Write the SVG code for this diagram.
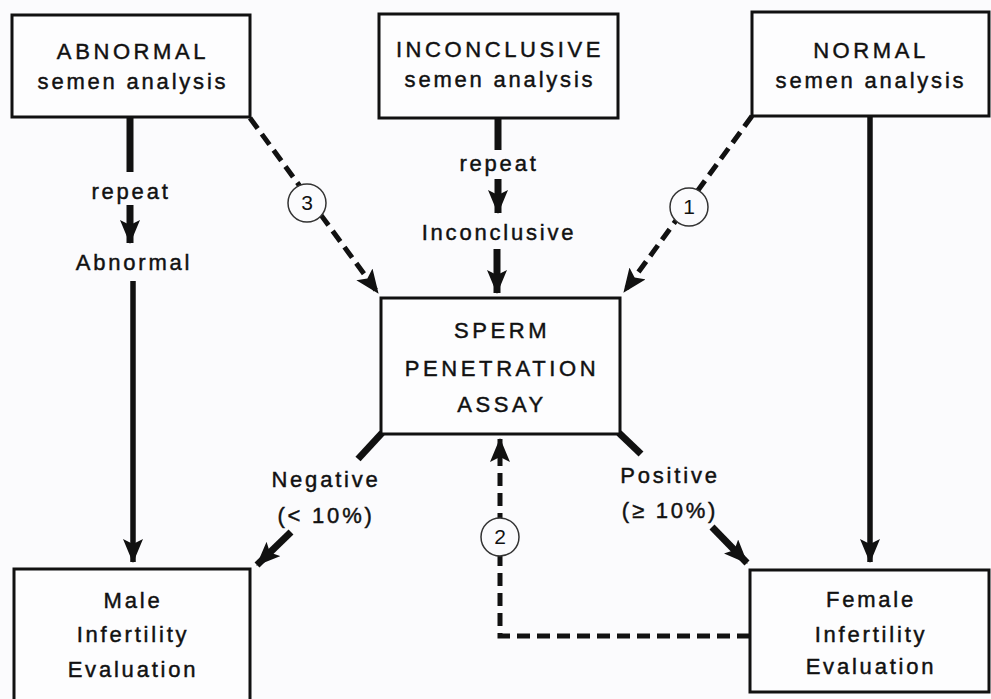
<svg xmlns="http://www.w3.org/2000/svg" width="991" height="699" viewBox="0 0 991 699">
<defs>
<marker id="ah" markerUnits="userSpaceOnUse" markerWidth="26" markerHeight="20" refX="23" refY="10" orient="auto">
<path d="M0,0 L24,10 L0,20 L5,10 z" fill="#111"/>
</marker>
<style>
.box{fill:#fdfdfe;stroke:#111;stroke-width:3}
.t{font-family:"Liberation Sans","DejaVu Sans",sans-serif;font-size:22px;fill:#111;stroke:#111;stroke-width:0.45;text-anchor:middle;letter-spacing:2.8px}
.cap{letter-spacing:3.6px}
.solid{stroke:#111;stroke-width:7;fill:none}
.thin{stroke:#111;stroke-width:5.5;fill:none}
.dash{stroke:#111;stroke-width:5;fill:none;stroke-dasharray:13 7}
.circ{fill:#fbfbfd;stroke:#333;stroke-width:1.5}
.num{font-family:"Liberation Sans","DejaVu Sans",sans-serif;font-size:21px;fill:#111;text-anchor:middle}
</style>
</defs>
<rect width="991" height="699" fill="#fbfbfd"/>
<g id="connectors">
<line class="solid" x1="130" y1="117" x2="130" y2="172"/>
<line class="solid" x1="130" y1="205" x2="130" y2="243" marker-end="url(#ah)"/>
<line class="thin" x1="133" y1="281" x2="133" y2="562" marker-end="url(#ah)"/>
<line class="dash" x1="250" y1="118" x2="378" y2="293" marker-end="url(#ah)"/>
<line class="solid" x1="498" y1="118" x2="498" y2="150"/>
<line class="solid" x1="498" y1="179" x2="498" y2="213" marker-end="url(#ah)"/>
<line class="solid" x1="497" y1="249" x2="497" y2="293" marker-end="url(#ah)"/>
<line class="dash" x1="752" y1="116" x2="624" y2="292" marker-end="url(#ah)"/>
<line class="thin" x1="870" y1="116" x2="870" y2="562" marker-end="url(#ah)"/>
<line class="solid" x1="382" y1="433" x2="358" y2="459"/>
<line class="solid" x1="619" y1="433" x2="641" y2="454"/>
<line class="solid" x1="291" y1="532" x2="257" y2="565" marker-end="url(#ah)"/>
<line class="solid" x1="712" y1="527" x2="747" y2="563" marker-end="url(#ah)"/>
<path class="dash" d="M750,636 L500,636 L500,439" marker-end="url(#ah)"/>
<circle class="circ" cx="307" cy="203" r="19"/>
<text class="num" x="307" y="210">3</text>
<circle class="circ" cx="689" cy="207" r="19"/>
<text class="num" x="689" y="214">1</text>
<circle class="circ" cx="500" cy="537" r="19"/>
<text class="num" x="500" y="544">2</text>
<text class="t" x="131" y="199">repeat</text>
<text class="t" x="134" y="270">Abnormal</text>
<text class="t" x="499" y="171">repeat</text>
<text class="t" x="499" y="240">Inconclusive</text>
<text class="t" x="326" y="487">Negative</text>
<text class="t" x="326" y="523">(&lt; 10%)</text>
<text class="t" x="670" y="483">Positive</text>
<text class="t" x="670" y="518">(≥ 10%)</text>
</g>
<g id="abnormal">
<rect class="box" x="12" y="15" width="238" height="102"/>
<text class="t cap" x="133" y="59">ABNORMAL</text>
<text class="t" x="133" y="89">semen analysis</text>
</g>
<g id="inconclusive">
<rect class="box" x="379" y="14" width="239" height="104"/>
<text class="t cap" x="500" y="57">INCONCLUSIVE</text>
<text class="t" x="500" y="87">semen analysis</text>
</g>
<g id="normal">
<rect class="box" x="752" y="12" width="237" height="104"/>
<text class="t cap" x="871" y="58">NORMAL</text>
<text class="t" x="871" y="88">semen analysis</text>
</g>
<g id="spa">
<rect class="box" x="381" y="298" width="239" height="136"/>
<text class="t cap" x="502" y="338">SPERM</text>
<text class="t cap" x="502" y="376">PENETRATION</text>
<text class="t cap" x="502" y="412">ASSAY</text>
</g>
<g id="male">
<rect class="box" x="14" y="569" width="236" height="140"/>
<text class="t" x="133" y="608">Male</text>
<text class="t" x="133" y="642">Infertility</text>
<text class="t" x="133" y="677">Evaluation</text>
</g>
<g id="female">
<rect class="box" x="750" y="570" width="239" height="122"/>
<text class="t" x="871" y="607">Female</text>
<text class="t" x="871" y="642">Infertility</text>
<text class="t" x="871" y="674">Evaluation</text>
</g>
</svg>
